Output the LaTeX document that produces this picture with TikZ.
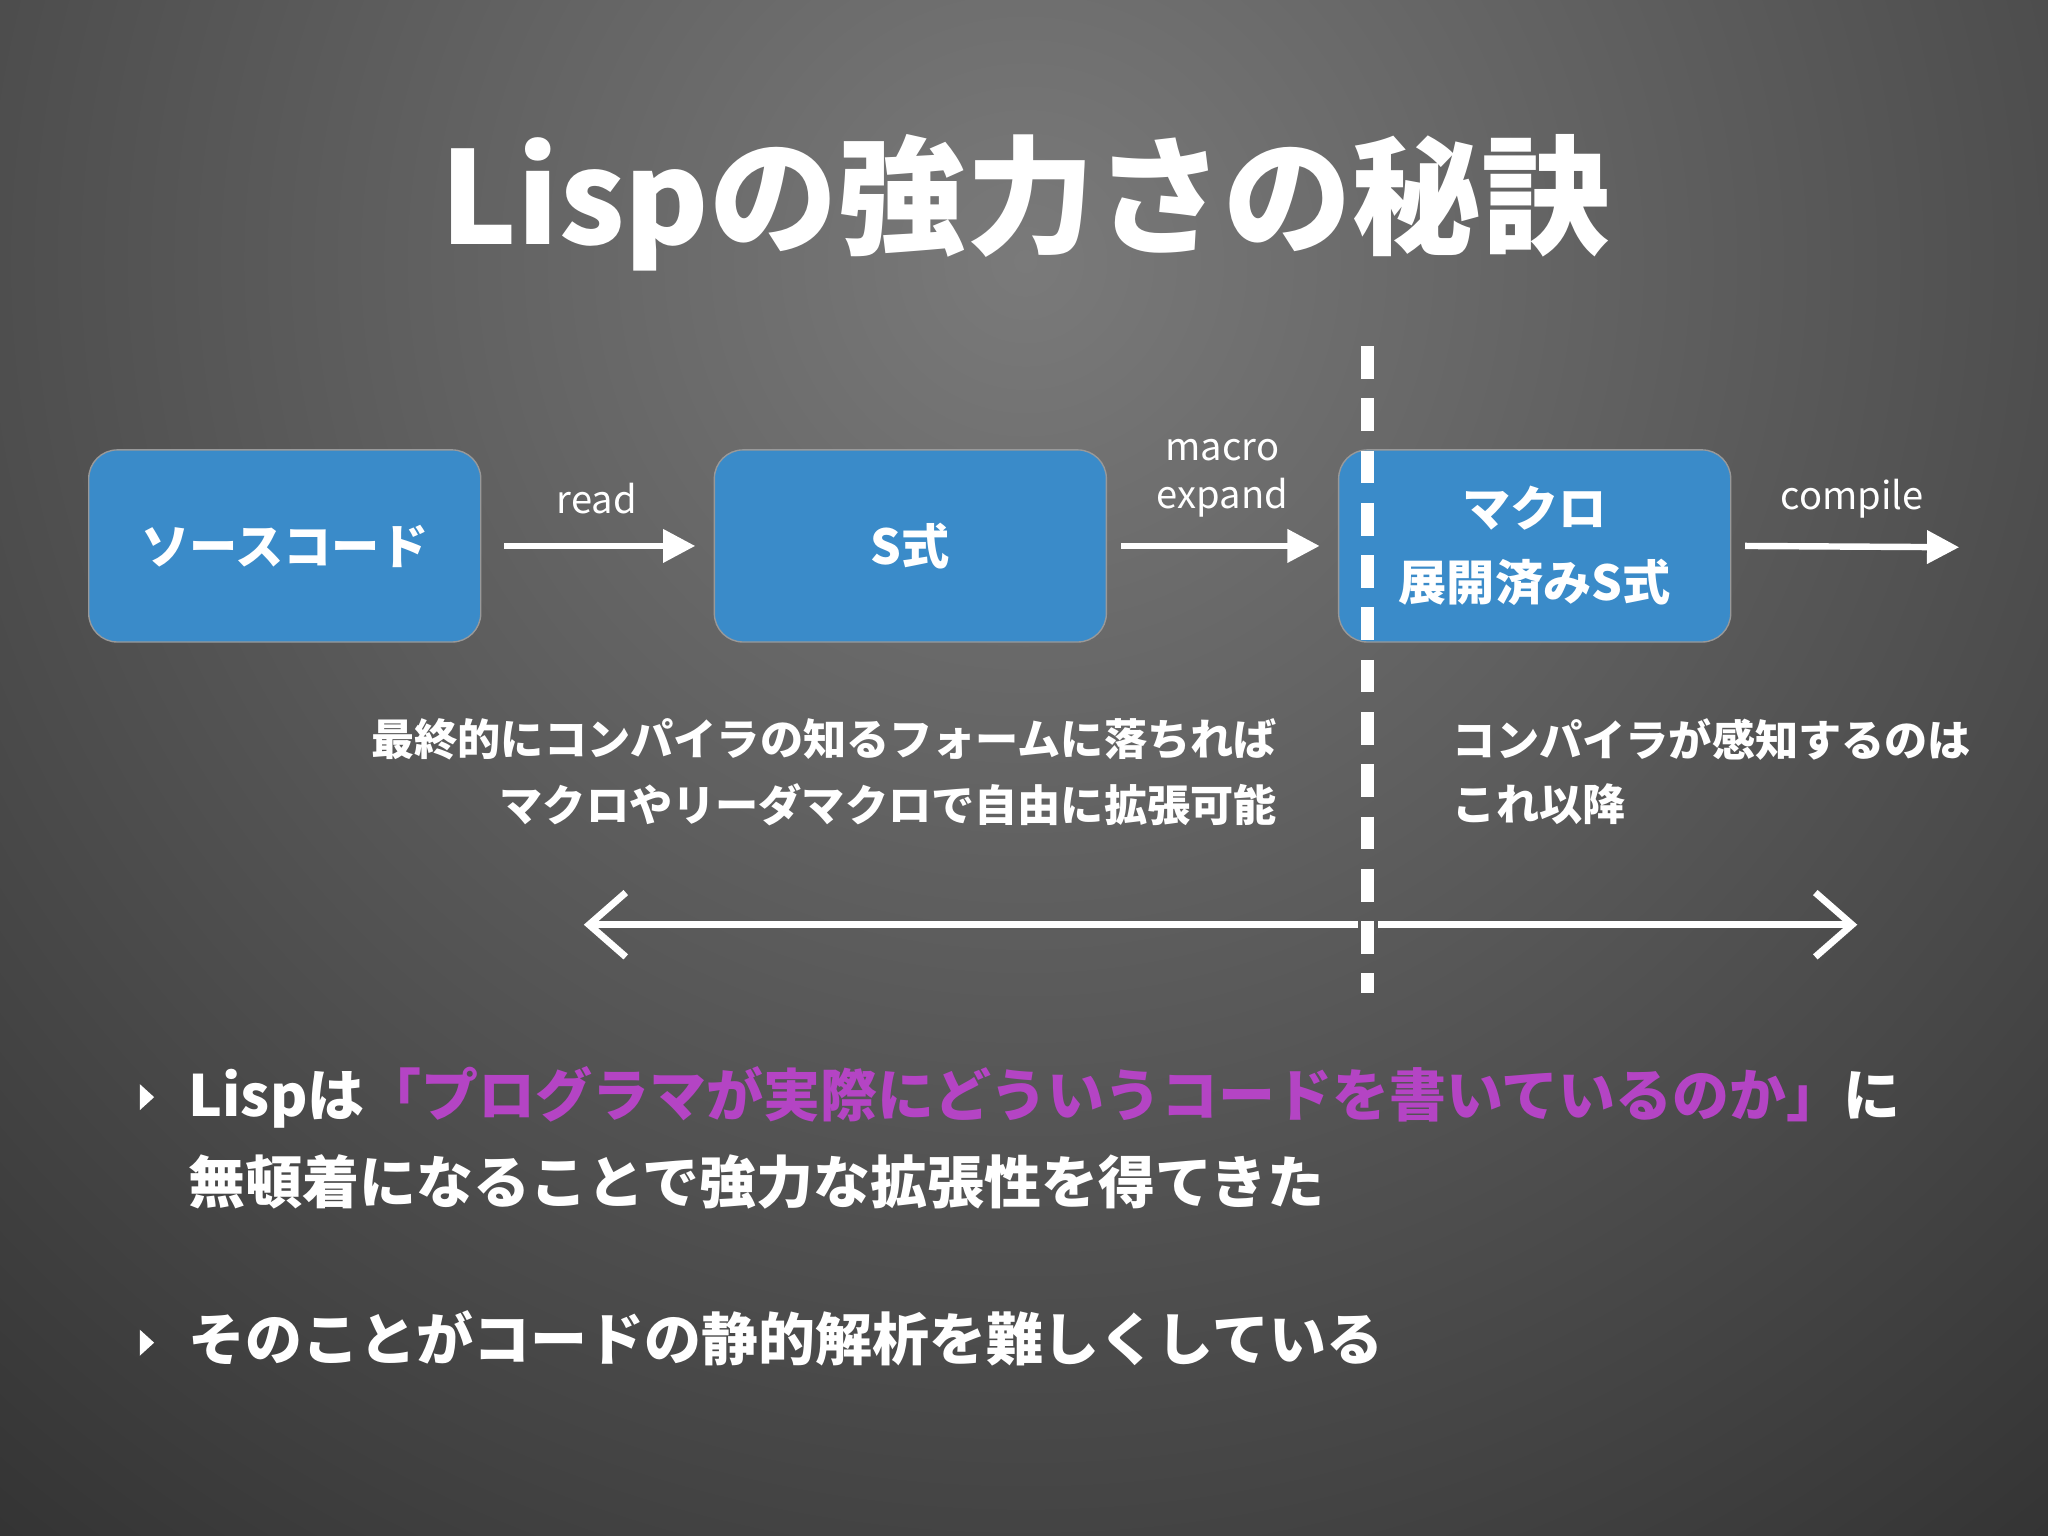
\documentclass[tikz,border=0pt]{standalone}
\usepackage{fontspec}
\setmainfont{Noto Sans CJK JP}
\usetikzlibrary{arrows.meta}
\definecolor{boxblue}{HTML}{3A8BC9}
\definecolor{purp}{HTML}{B444C4}
\definecolor{bgdark}{HTML}{262626}
\definecolor{bglight}{HTML}{7A7A7A}
\begin{document}
\begin{tikzpicture}[x=0.01cm,y=-0.01cm,
  box/.style={fill=boxblue,rounded corners=0.22cm,minimum width=3cm,minimum height=1.47cm,text=white,font=\fontsize{10.5}{14}\selectfont\bfseries,align=center,draw=black!40,line width=0.3pt},
  arr/.style={white,line width=1.4pt,-{Triangle[length=7pt,width=7pt]}},
  lab/.style={text=white,font=\fontsize{8.3}{10.5}\selectfont,align=center},
  note/.style={text=white,font=\fontsize{9.4}{14}\selectfont\bfseries},
  bul/.style={text=white,font=\fontsize{12.4}{18}\selectfont\bfseries,anchor=west}]
\clip (0,0) rectangle (1568,1176);
\fill[bgdark] (0,0) rectangle (1568,1176);
\shade[inner color=bglight,outer color=bgdark] (785,200) circle (1500);
\node[text=white,font=\fontsize{28}{34}\selectfont\bfseries] (title) at (785,155) {Lispの強力さの秘訣};
\node[box] (src) at (218,418) {ソースコード};
\node[box] (sexp) at (697,418) {S式};
\node[box] (mac) at (1175,418) {マクロ\\[2pt]展開済みS式};
\coordinate (end) at (1500,419);
\draw[white,line width=2.8pt,dash pattern=on 0.25cm off 0.15cm] (1047,265) -- (1047,760);
\draw[arr] ([xshift=5]src.east) -- ([xshift=-4]sexp.west);
\draw[arr] ([xshift=3]sexp.east) -- ([xshift=-4]mac.west);
\draw[arr] ([xshift=3]mac.east) -- (end);
\node[lab] (l1) at (457,382) {read};
\node[lab] (l2) at (936,366) {macro\\expand};
\node[lab] (l3) at (1418,382) {compile};
\node[note,anchor=east] (n1) at (990,566) {最終的にコンパイラの知るフォームに落ちれば};
\node[note,anchor=east] (n2) at (990,616) {マクロやリーダマクロで自由に拡張可能};
\node[note,anchor=west] (n3) at (1100,566) {コンパイラが感知するのは};
\node[note,anchor=west] (n4) at (1100,616) {これ以降};
\coordinate (la) at (447,708); \coordinate (lb) at (1040,708);
\coordinate (ra) at (1055,708); \coordinate (rb) at (1422,708);
\draw[white,line width=1.5pt,{Straight Barb[length=8pt,width=14pt,line width=1.5pt]}-] (la) -- (lb);
\draw[white,line width=1.5pt,-{Straight Barb[length=8pt,width=14pt,line width=1.5pt]}] (ra) -- (rb);
\fill[white] (107,830) -- (118,840) -- (107,850) -- cycle;
\fill[white] (107,1018) -- (118,1028) -- (107,1038) -- cycle;
\node[bul] (b1) at (132,840) {Lispは\textcolor{purp}{「プログラマが実際にどういうコードを書いているのか」}に};
\node[bul] (b1b) at (132,905) {無頓着になることで強力な拡張性を得てきた};
\node[bul] (b2) at (132,1025) {そのことがコードの静的解析を難しくしている};
\end{tikzpicture}
\end{document}
